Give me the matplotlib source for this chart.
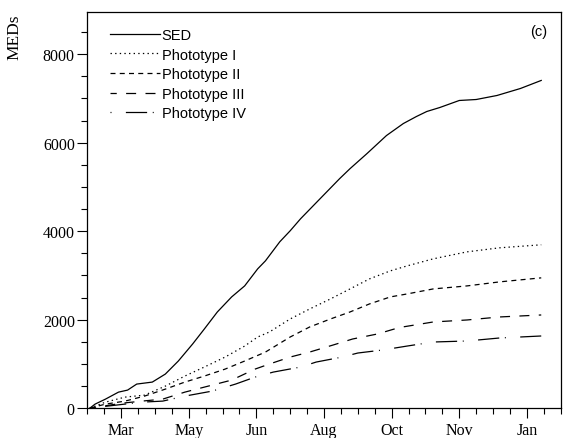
import matplotlib
matplotlib.use("Agg")
import matplotlib.pyplot as plt
from matplotlib.ticker import MultipleLocator

# Cumulative erythemal dose, days counted from the start of the record
sed_day = [2, 6, 14, 24, 31, 38, 50, 60, 70, 81, 90, 100, 111, 121, 131, 137,
           148, 156, 164, 179, 194, 202, 215, 230, 243, 253, 261, 271, 286,
           299, 315, 333, 349]
sed_val = [0, 91, 204, 362, 408, 544, 589, 770, 1065, 1450, 1789, 2174, 2514,
           2763, 3148, 3330, 3760, 4009, 4281, 4734, 5187, 5413, 5753, 6161,
           6433, 6591, 6705, 6795, 6954, 6976, 7067, 7225, 7407]

p1_day = [2, 6, 14, 29, 44, 60, 75, 90, 106, 121, 131, 140, 156, 171, 187,
          202, 217, 233, 246, 266, 292, 317, 349]
p1_val = [0, 45, 136, 249, 294, 498, 725, 929, 1155, 1404, 1608, 1721, 2016,
          2242, 2469, 2695, 2922, 3103, 3216, 3375, 3533, 3624, 3692]

p2_day = [2, 14, 29, 44, 60, 75, 90, 106, 121, 137, 156, 171, 187, 202, 217,
          233, 246, 266, 292, 317, 349]
p2_val = [0, 91, 159, 272, 430, 589, 725, 883, 1065, 1268, 1608, 1835, 2016,
          2174, 2356, 2514, 2582, 2695, 2763, 2854, 2945]

p3_day = [2, 27, 42, 58, 75, 93, 111, 129, 140, 156, 171, 189, 204, 223, 240,
          266, 292, 317, 349]
p3_val = [0, 113, 159, 204, 362, 498, 634, 883, 997, 1155, 1268, 1427, 1563,
          1676, 1823, 1948, 1993, 2061, 2106]

p4_day = [2, 42, 58, 75, 96, 114, 129, 143, 164, 176, 196, 208, 227, 246, 266,
          292, 317, 349]
p4_val = [0, 136, 159, 272, 385, 544, 702, 815, 929, 1042, 1155, 1246, 1314,
          1404, 1495, 1518, 1586, 1631]

month_ticks = [26, 78, 130, 182, 234, 286, 338]
month_labels = ["Mar", "May", "Jun", "Aug", "Oct", "Nov", "Jan"]
y_ticks = [0, 2000, 4000, 6000, 8000]

serif = "Liberation Serif"
sans = "Liberation Sans"

fig = plt.figure(figsize=(5.63, 4.39), dpi=100)
ax = fig.add_axes([0.155, 0.068, 0.841, 0.902])

lw = 0.9
ax.plot(sed_day, sed_val, color="black", lw=lw, label="SED")
ax.plot(p1_day, p1_val, color="black", lw=lw, linestyle=(0, (1.1, 2.6)),
        label="Phototype I")
ax.plot(p2_day, p2_val, color="black", lw=lw, linestyle=(0, (4.0, 3.4)),
        label="Phototype II")
ax.plot(p3_day, p3_val, color="black", lw=lw, linestyle=(3, (8.0, 7.5)),
        label="Phototype III")
ax.plot(p4_day, p4_val, color="black", lw=lw,
        linestyle=(0, (0.8, 11.5, 17.0, 4.5)), label="Phototype IV")

ax.set_xlim(0, 364)
ax.set_ylim(0, 8950)

ax.set_xticks(month_ticks)
ax.set_xticklabels(month_labels, fontfamily=serif, fontsize=11.5)
ax.xaxis.set_minor_locator(MultipleLocator(13))
ax.set_yticks(y_ticks)
ax.set_yticklabels([str(v) for v in y_ticks], fontfamily=serif, fontsize=11.5)
ax.yaxis.set_minor_locator(MultipleLocator(500))

ax.tick_params(which="major", direction="out", length=7, width=0.8, pad=3)
ax.tick_params(which="minor", direction="out", length=4, width=0.8)
ax.tick_params(axis="y", pad=2)
for s in ax.spines.values():
    s.set_linewidth(0.9)

fig.text(14 / 563, 1 - 37 / 439, "MEDs", rotation=90, ha="center",
         va="center", fontfamily=serif, fontsize=12.5)
ax.text(0.954, 0.952, "(c)", transform=ax.transAxes, ha="center",
        va="center", fontfamily=sans, fontsize=10.5)

leg = ax.legend(loc="upper left", bbox_to_anchor=(0.048, 0.96),
                frameon=False, borderpad=0, borderaxespad=0,
                handlelength=3.4, handletextpad=0.15, labelspacing=0.38,
                prop={"family": sans, "size": 10.5})

fig.savefig("out.png", dpi=100)
